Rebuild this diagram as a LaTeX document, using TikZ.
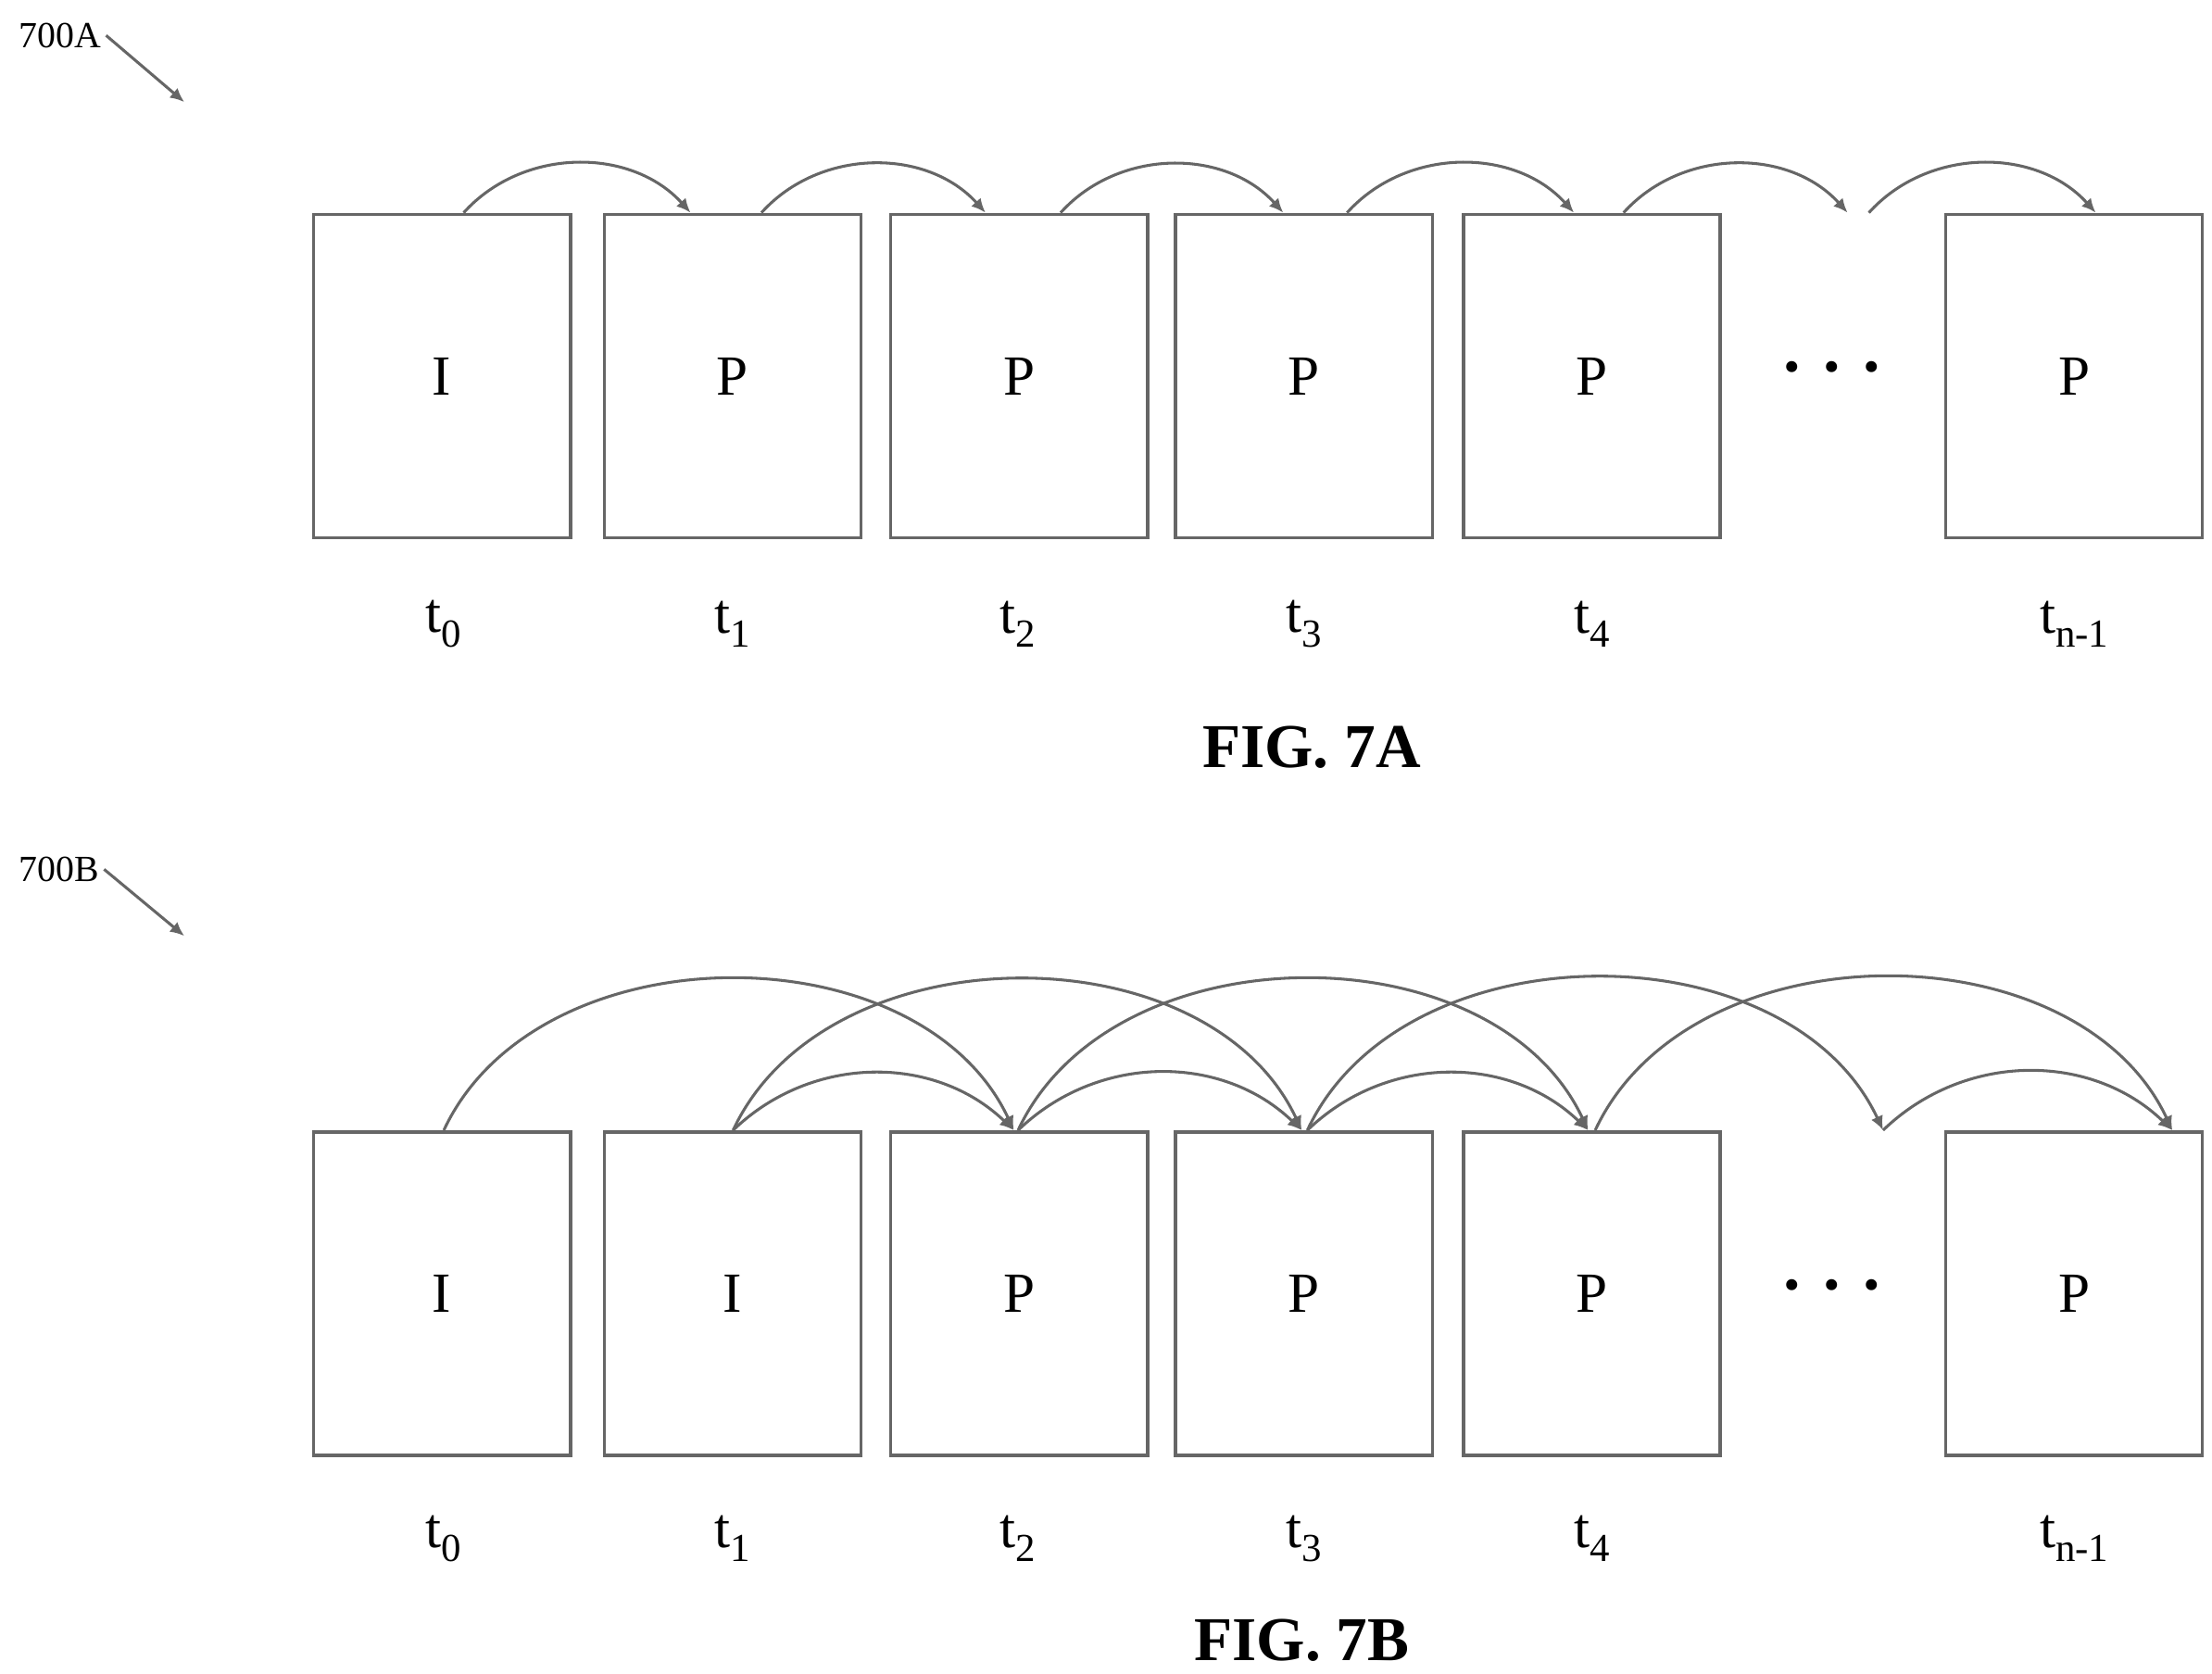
\documentclass[tikz,border=0pt]{standalone}
\usepackage{fontspec}
\setmainfont{Liberation Serif}
\usetikzlibrary{arrows.meta}
\begin{document}
\begin{tikzpicture}[x=1pt,y=-1pt,
  box/.style={draw=black!60,line width=2.4pt,minimum width=181pt,minimum height=228pt,inner sep=0,anchor=north west,font=\fontsize{40}{40}\selectfont},
  lab/.style={font=\fontsize{40}{40}\selectfont},
  dots/.style={font=\bfseries\fontsize{48}{48}\selectfont},
  arc/.style={draw=black!60,line width=2pt,-{Latex[length=10pt,width=9pt]}},
  fig/.style={font=\bfseries\fontsize{44}{44}\selectfont}]
\useasboundingbox (0,0) rectangle (1560,1180);
\foreach \s/\y in {a/150,b/797}{
  \foreach \i/\x in {0/220,1/425,2/627,3/828,4/1031,5/1371}{
    \node[box] (\s\i) at (\x,\y) {};
  }
}
\foreach \i/\t in {0/I,1/P,2/P,3/P,4/P,5/P}{\node[lab] at (a\i.center) {\t};}
\foreach \i/\t in {0/I,1/I,2/P,3/P,4/P,5/P}{\node[lab] at (b\i.center) {\t};}
\node[dots] (da) at (1292,265) {·\hspace{12pt}·\hspace{12pt}·};
\node[dots] (db) at (1292,912) {·\hspace{12pt}·\hspace{12pt}·};
\foreach \s/\y in {a/440,b/1085}{
  \node[lab] (\s t0) at (313,\y) {t\textsubscript{0}};
  \node[lab] (\s t1) at (517,\y) {t\textsubscript{1}};
  \node[lab] (\s t2) at (718,\y) {t\textsubscript{2}};
  \node[lab] (\s t3) at (920,\y) {t\textsubscript{3}};
  \node[lab] (\s t4) at (1123,\y) {t\textsubscript{4}};
  \node[lab] (\s t5) at (1463,\y) {t\textsubscript{n-1}};
}
\node[fig] (fa) at (925,527) {FIG. 7A};
\node[fig] (fb) at (918,1157) {FIG. 7B};
\node[lab,font=\fontsize{26}{26}\selectfont,anchor=west] (la) at (10,25) {700A};
\node[lab,font=\fontsize{26}{26}\selectfont,anchor=west] (lb) at (10,613) {700B};
\coordinate (ea) at (130,72); \coordinate (eb) at (130,660);
\draw[arc] (la.east) -- (ea);
\draw[arc] (lb.east) -- (eb);
% 7A arcs
\foreach \a/\b in {327/487,537/695,748/905,950/1110,1145/1303,1318/1478}{
  \coordinate (p\a) at (\a,150); \coordinate (q\b) at (\b,150);
  \draw[arc] (p\a) to[bend left=48] (q\b);
}
% 7B arcs
\foreach \a/\b in {313/715,517/918,718/1120,922/1328,1125/1532}{
  \coordinate (r\a) at (\a,797); \coordinate (s\b) at (\b,797);
  \draw[arc] (r\a) to[bend left=65] (s\b);
}
\foreach \a/\b in {517/715,718/918,922/1120,1328/1532}{
  \coordinate (u\a) at (\a,797); \coordinate (v\b) at (\b,797);
  \draw[arc] (u\a) to[bend left=44] (v\b);
}
\end{tikzpicture}
\end{document}
